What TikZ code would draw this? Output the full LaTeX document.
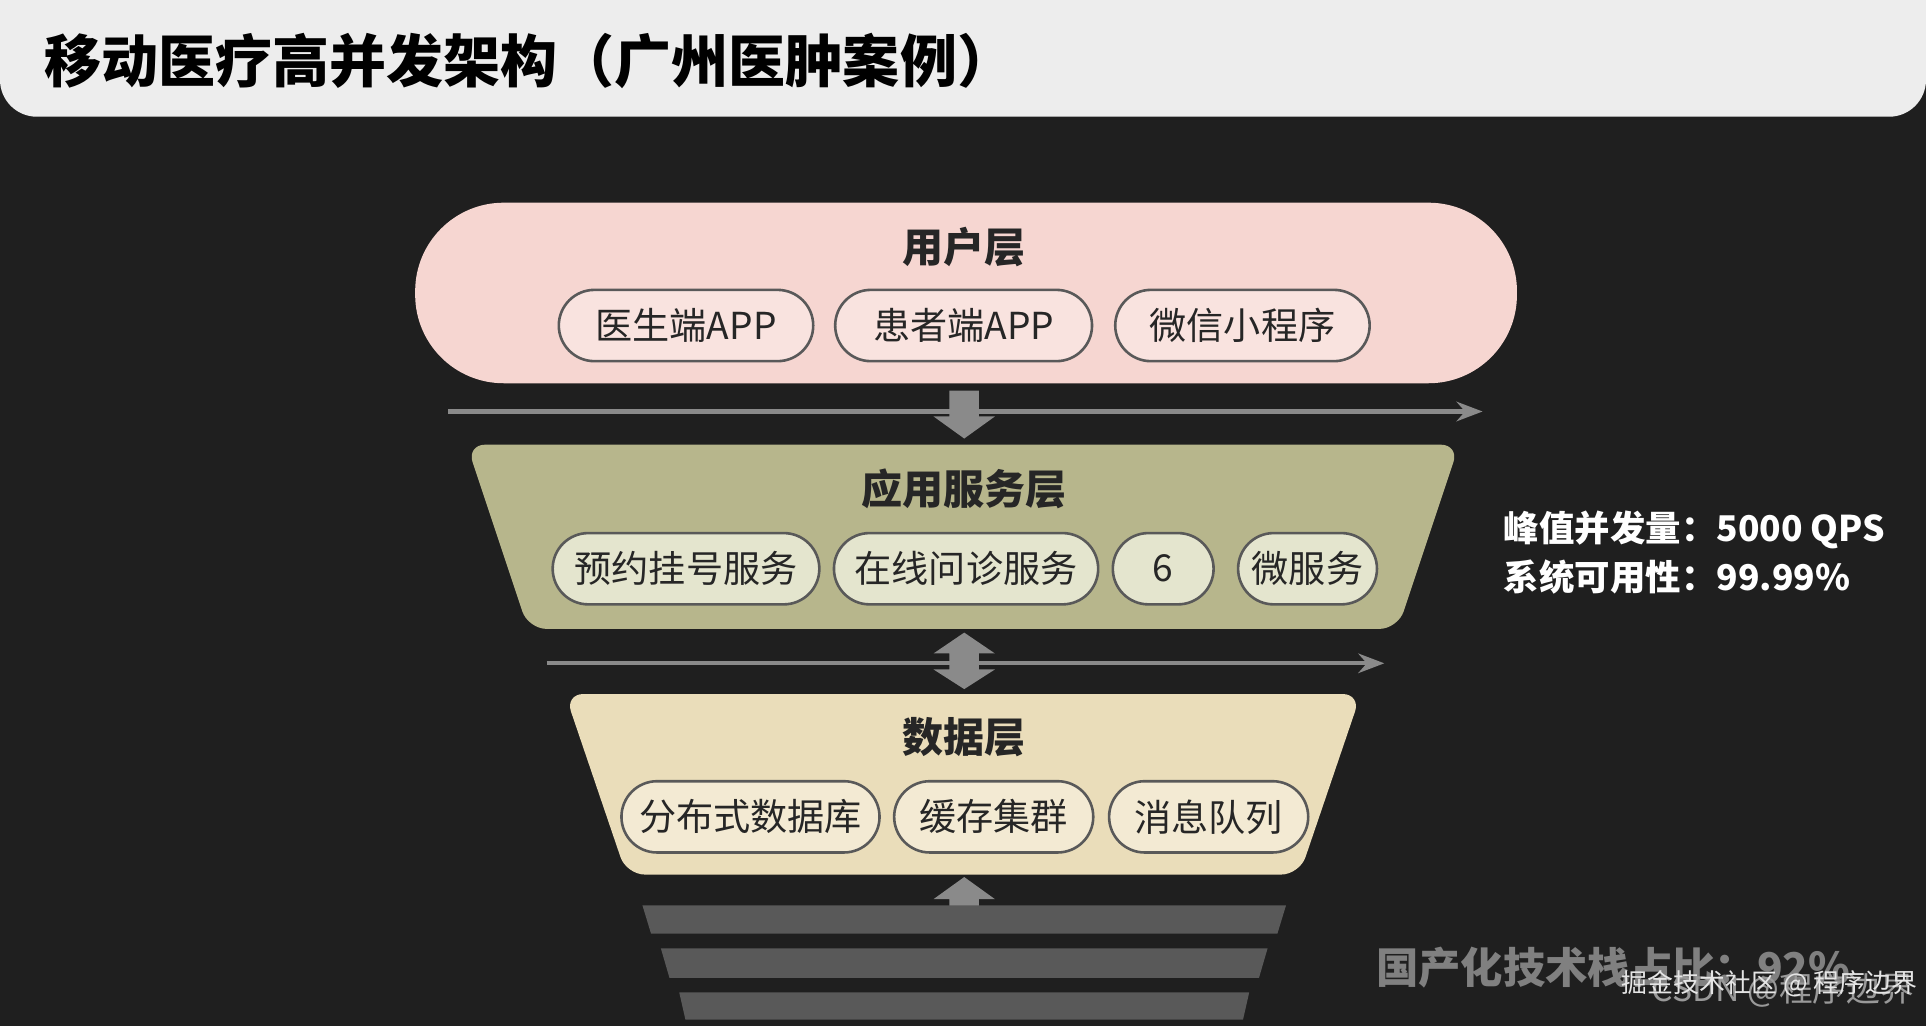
\documentclass[tikz,border=0pt]{standalone}
\usepackage{fontspec}
\setmainfont{Noto Sans CJK SC}
\usepackage{tikz}
\usetikzlibrary{arrows.meta}
\definecolor{bgdark}{HTML}{1F1F1F}
\definecolor{titlebg}{HTML}{EDEDED}
\definecolor{userfill}{HTML}{F6D6D1}
\definecolor{userpill}{HTML}{F9E3DF}
\definecolor{appfill}{HTML}{B7B68C}
\definecolor{apppill}{HTML}{E4E5CE}
\definecolor{datafill}{HTML}{EADDBA}
\definecolor{datapill}{HTML}{F3EAD3}
\definecolor{arrowgray}{HTML}{8A8A8A}
\tikzset{
  pill/.style={draw=gray!70!black, line width=0.6pt, rounded corners=0.29cm, minimum height=0.58cm, inner sep=0pt, font=\fontsize{8.6}{10}\selectfont, text=black!85},
  layertitle/.style={font=\bfseries\fontsize{9.5}{11}\selectfont, text=black!85},
  flowline/.style={arrowgray, line width=1pt, -{Stealth[length=6pt]}}
}
\newcommand{\blockarrow}[3] % {x}{y top}{y tip}  down arrow
{
	\fill [arrowgray] (#1-12,#2) -- (#1+12,#2) -- (#1+12,#3-18) -- (#1+25,#3-18) -- (#1,#3) -- (#1-25,#3-18) -- (#1-12,#3-18) -- cycle;
}
\newcommand{\uparrowblock}[3] % {x}{y bottom}{y tip}
{
	\fill [arrowgray] (#1-12,#2) -- (#1+12,#2) -- (#1+12,#3+18) -- (#1+25,#3+18) -- (#1,#3) -- (#1-25,#3+18) -- (#1-12,#3+18) -- cycle;
}
\begin{document}
\begin{tikzpicture}[x=0.01cm, y=-0.01cm]
	\useasboundingbox (0,0) rectangle (1568,835);
	\fill [bgdark] (0,0) rectangle (1568,835);
	
	% title bar
	\fill [titlebg, rounded corners=0.3cm] (0,-40) rectangle (1568,95);
	\node [anchor=west, font=\bfseries\fontsize{13.2}{15}\selectfont] (title) at (24,50) {移动医疗高并发架构（广州医肿案例）};
	
	% user layer
	\fill [userfill, rounded corners=0.72cm] (338,165) rectangle (1235,312);
	\node [layertitle] (userlbl) at (785,201) {用户层};
	\node [pill, fill=userpill, minimum width=2.07cm] (docapp) at (558.5,265) {医生端APP};
	\node [pill, fill=userpill, minimum width=2.09cm] (patapp) at (784.5,265) {患者端APP};
	\node [pill, fill=userpill, minimum width=2.07cm] (wechat) at (1011.5,265) {微信小程序};
	
	\coordinate (f1s) at (365,335);
	\coordinate (f1e) at (1207,335);
	\draw [flowline] (f1s) -- (f1e);
	\blockarrow{785}{318}{357}
	
	% application layer
	\fill [appfill, rounded corners=0.15cm] (380,362) -- (1188,362) -- (1138,512) -- (430,512) -- cycle;
	\node [layertitle] (applbl) at (785,398) {应用服务层};
	\node [pill, fill=apppill, minimum width=2.17cm] (booking) at (558.5,463) {预约挂号服务};
	\node [pill, fill=apppill, minimum width=2.15cm] (consult) at (786.5,463) {在线问诊服务};
	\node [pill, fill=apppill, minimum width=0.82cm] (six) at (947,463) {6};
	\node [pill, fill=apppill, minimum width=1.13cm] (micro) at (1064.5,463) {微服务};
	
	\coordinate (f2s) at (445,540);
	\coordinate (f2e) at (1127,540);
	\draw [flowline] (f2s) -- (f2e);
	\fill [arrowgray] (785,515) -- (810,532) -- (797,532) -- (797,545) -- (810,545) -- (785,561) -- (760,545) -- (773,545) -- (773,532) -- (760,532) -- cycle;
	
	% data layer
	\fill [datafill, rounded corners=0.15cm] (460,565) -- (1108,565) -- (1058,712) -- (510,712) -- cycle;
	\node [layertitle] (datalbl) at (785,600) {数据层};
	\node [pill, fill=datapill, minimum width=2.10cm] (distdb) at (611,665) {分布式数据库};
	\node [pill, fill=datapill, minimum width=1.62cm] (cache) at (809,665) {缓存集群};
	\node [pill, fill=datapill, minimum width=1.62cm] (mq) at (984,665) {消息队列};
	
	\uparrowblock{785}{753}{714}
	
	% base bars
	\fill [black!65] (523,737) -- (1047,737) -- (1040,760) -- (530,760) -- cycle;
	\fill [black!65] (538,772) -- (1032,772) -- (1025,796) -- (545,796) -- cycle;
	\fill [black!65] (553,808) -- (1017,808) -- (1012,830) -- (558,830) -- cycle;
	
	% side notes
	\node [anchor=west, text=white, font=\bfseries\fontsize{8.2}{10}\selectfont] (peak) at (1212,431) {峰值并发量：5000 QPS};
	\node [anchor=west, text=white, font=\bfseries\fontsize{8.2}{10}\selectfont] (avail) at (1212,470) {系统可用性：99.99\%};
	\node [anchor=west, text=black!50, font=\bfseries\fontsize{9.8}{12}\selectfont] (domestic) at (1108,788) {国产化技术栈占比：92\%};
	\node [anchor=west, text=white!60!black, font=\fontsize{7.8}{9}\selectfont] (wm2) at (1332,806) {CSDN @程序边界};
	\node [anchor=west, text=white!90!black, font=\fontsize{6}{7}\selectfont] (wm1) at (1308,801) {掘金技术社区 @ 程序边界};
\end{tikzpicture}
\end{document}
